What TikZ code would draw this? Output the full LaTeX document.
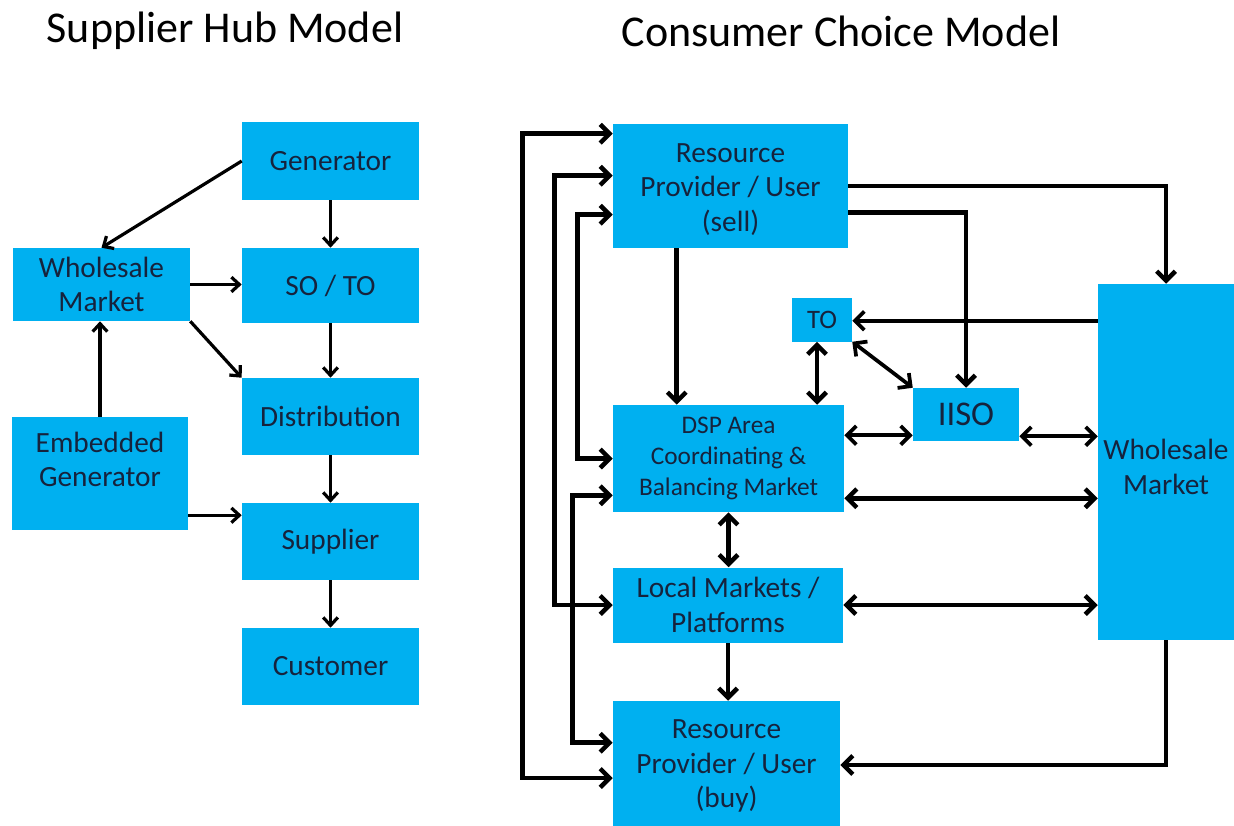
\documentclass[tikz,border=0pt]{standalone}
\usepackage{fontspec}
\setmainfont{Carlito}
\usetikzlibrary{arrows.meta,calc}
\definecolor{boxblue}{HTML}{00B0F0}
\definecolor{txt}{HTML}{16233D}
\begin{document}
\begin{tikzpicture}[x=0.75pt,y=-0.75pt,
  box/.style={fill=boxblue, text=txt, align=center, inner sep=0pt, font=\fontsize{22}{26}\selectfont},
  title/.style={text=black, font=\fontsize{33}{36}\selectfont},
  la/.style={line width=2.4pt, -{Straight Barb[length=6pt,width=11pt]}},
  ra/.style={line width=3.4pt, -{Straight Barb[length=7pt,width=14pt]}},
  rb/.style={line width=3.4pt, {Straight Barb[length=7pt,width=14pt]}-{Straight Barb[length=7pt,width=14pt]}},
  rbt/.style={rb, line width=2.8pt}]
\useasboundingbox (0,0) rectangle (1234,825);

% titles
\node[title] (t1) at (225,31) {Supplier Hub Model};
\node[title] (t2) at (841,31) {Consumer Choice Model};

% ---- Supplier hub model ----
\node[box, minimum width=177*0.75pt, minimum height=78*0.75pt] (gen) at (330.5,161) {Generator};
\node[box, minimum width=177*0.75pt, minimum height=75*0.75pt] (soto) at (330.5,285.5) {SO / TO};
\node[box, minimum width=177*0.75pt, minimum height=73*0.75pt] (wml) at (101.5,284.5) {Wholesale\\Market};
\node[box, minimum width=177*0.75pt, minimum height=77*0.75pt] (dist) at (330.5,416.5) {Distribution};
\node[box, minimum width=176*0.75pt, minimum height=113*0.75pt,
      label={[box, fill=none, yshift=10.5pt]center:Embedded\\Generator}] (emb) at (100,473.5) {};
\node[box, minimum width=177*0.75pt, minimum height=77*0.75pt] (sup) at (330.5,541.5) {Supplier};
\node[box, minimum width=177*0.75pt, minimum height=77*0.75pt] (cust) at (330.5,666.5) {Customer};

\draw[la] (gen.west) -- (wml.north);
\draw[la] (gen.south) -- (soto.north);
\draw[la] (wml.east) -- (wml.east -| soto.west);
\draw[la] (wml.south east) -- (dist.north west);
\draw[la] (soto.south) -- (dist.north);
\draw[la] (dist.south) -- (sup.north);
\draw[la] (sup.south) -- (cust.north);
\draw[la] (emb.north) -- (emb.north |- wml.south);
\draw[la] ($(emb.south east)+(0,-15)$) coordinate (e1) -- (e1 -| sup.west);

% ---- Consumer choice model ----
\node[box, minimum width=235*0.75pt, minimum height=124*0.75pt,
      label={[box, fill=none, yshift=-2.5pt]center:Resource\\Provider / User\\(sell)}] (rps) at (730.5,186) {};
\node[box, minimum width=60*0.75pt, minimum height=44*0.75pt, font=\fontsize{20}{22}\selectfont] (to) at (822,319.5) {TO};
\node[box, minimum width=106*0.75pt, minimum height=53*0.75pt, font=\fontsize{26}{28}\selectfont] (iiso) at (966,414.5) {IISO};
\node[box, minimum width=231*0.75pt, minimum height=107*0.75pt, font=\fontsize{19}{23.2}\selectfont] (dsp) at (728.5,458.5) {DSP Area\\Coordinating \&\\Balancing Market};
\node[box, minimum width=136*0.75pt, minimum height=356*0.75pt,
      label={[box, fill=none, yshift=-3.5pt]center:Wholesale\\Market}] (wmr) at (1166,462) {};
\node[box, minimum width=230*0.75pt, minimum height=75*0.75pt] (loc) at (728,605) {Local Markets /\\Platforms};
\node[box, minimum width=227*0.75pt, minimum height=130*0.75pt] (rpb) at (726.5,766) {Resource\\Provider / User\\(buy)};

% left loops
\draw[rb] ($(rps.north west)+(0,10)$) -- ++(-90,0) |- ($(rpb.west)+(0,12)$);
\draw[rb] ($(rps.north west)+(0,52)$) -- ++(-58,0) |- (loc.west);
\draw[rb] ($(rps.north west)+(0,91)$) -- ++(-35,0) |- (dsp.west);
\draw[rb] ($(dsp.south west)+(0,-17)$) -- ++(-40,0) |- ($(rpb.north west)+(0,42)$);

% from RP sell
\draw[ra] ($(rps.south west)+(64,0)$) coordinate (r1) -- (r1 |- dsp.north);
\draw[ra] (rps.east) -| (wmr.north);
\draw[ra] ($(rps.south east)+(0,-36)$) -| (iiso.north);

% TO links
\draw[ra, line width=2.8pt] ($(wmr.north west)+(0,37)$) coordinate (w1) -- (w1 -| to.east);
\draw[rbt] (to.south east) -- (iiso.north west);
\draw[rb] ($(to.south)+(-5,0)$) coordinate (t3) -- (t3 |- dsp.north);

% horizontal links
\draw[rbt] ($(iiso.south west)+(0,-6)$) coordinate (i1) -- (i1 -| dsp.east);
\draw[rbt] ($(iiso.south east)+(0,-5)$) coordinate (i2) -- (i2 -| wmr.west);
\draw[rb] ($(dsp.south east)+(0,-14)$) coordinate (d1) -- (d1 -| wmr.west);
\draw[rb] (loc.east) -- (loc.east -| wmr.west);

% vertical centre links
\draw[rb] (dsp.south) -- (dsp.south |- loc.north);
\draw[ra] (loc.south) -- (loc.south |- rpb.north);

% wholesale to RP buy
\draw[ra] (wmr.south) |- ($(rpb.east)+(0,-1)$);
\end{tikzpicture}
\end{document}
